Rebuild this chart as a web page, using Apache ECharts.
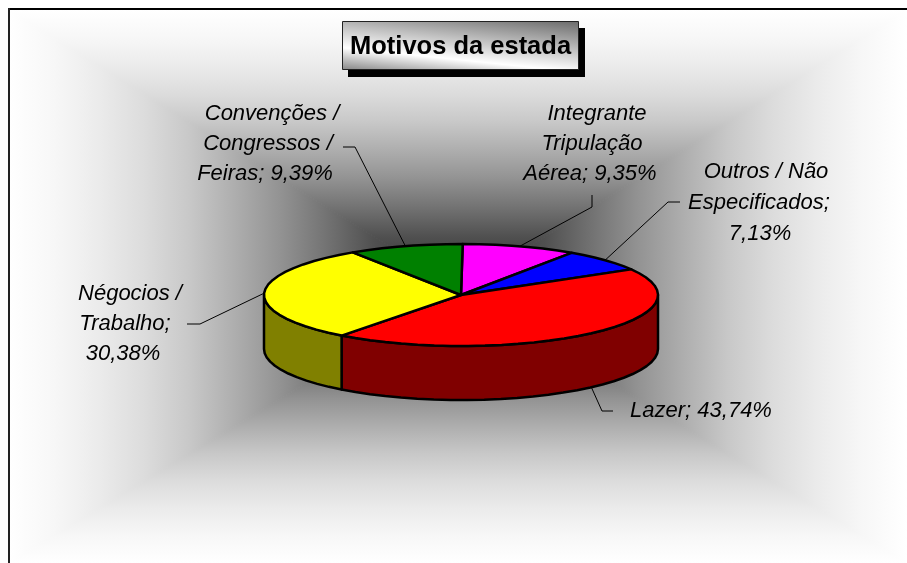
<!DOCTYPE html>
<html>
<head>
<meta charset="utf-8">
<title>Motivos da estada</title>
<script src="https://cdn.jsdelivr.net/npm/echarts@6/dist/echarts.min.js"></script>
<style>
html, body { margin: 0; padding: 0; background: #fff; }
#main { width: 907px; height: 563px; }
</style>
</head>
<body>
<div id="main"></div>
<script>
const titleText = 'Motivos da estada'
const sliceNames = ['Integrante Tripulação Aérea', 'Outros / Não Especificados', 'Lazer', 'Négocios / Trabalho', 'Convenções / Congressos / Feiras']
const sliceValues = [9.35, 7.13, 43.74, 30.38, 9.39]
const sliceColors = ['#ff00ff', '#0000ff', '#ff0000', '#ffff00', '#008000']
const wallColors = ['#800080', '#000080', '#800000', '#808000', '#004000']
const sliceLabels = [
  ['Integrante', 'Tripulação', 'Aérea; 9,35%'],
  ['Outros / Não', 'Especificados;', '7,13%'],
  ['Lazer; 43,74%'],
  ['Négocios /', 'Trabalho;', '30,38%'],
  ['Convenções /', 'Congressos /', 'Feiras; 9,39%']
]

// pie geometry
const cx = 461, cy = 295, rx = 197, ry = 51, depth = 54, startAngle = 0.5
const total = sliceValues.reduce((a, b) => a + b, 0)

// label text centres and leader elbows, same order as the slices
const labelPos = [
  [[597, 114], [592, 144], [590, 174]],
  [[766, 172], [759, 203], [760, 234]],
  [[701, 411]],
  [[130, 294], [125, 324], [123, 354]],
  [[272, 114], [268, 144], [265, 174]]
]
const leaderPos = [
  [[592, 195], [592, 207]],
  [[680, 202], [668, 202]],
  [[613, 411], [602, 411]],
  [[187, 324], [200, 324]],
  [[343, 147], [355, 147]]
]

function rimPoint (deg, drop) {
  const a = deg * Math.PI / 180
  return [cx + rx * Math.sin(a), cy - ry * Math.cos(a) + (drop || 0)]
}

function arcPoints (from, to, drop) {
  const pts = []
  const steps = Math.max(2, Math.ceil(Math.abs(to - from) / 5))
  for (let i = 0; i <= steps; i++) {
    pts.push(rimPoint(from + (to - from) * i / steps, drop))
  }
  return pts
}

function renderSlice (params, api) {
  const i = params.dataIndex
  let before = 0
  for (let k = 0; k < i; k++) before += sliceValues[k]
  const from = startAngle + before / total * 360
  const to = from + api.value(0) / total * 360
  const mid = (from + to) / 2
  const children = []
  const edge = { stroke: '#000', lineWidth: 2.5, lineJoin: 'round' }

  // only the front half of the side wall shows
  const wallFrom = Math.max(from, 90)
  const wallTo = Math.min(to, 270)
  if (wallTo > wallFrom) {
    const wall = arcPoints(wallFrom, wallTo, 0).concat(arcPoints(wallTo, wallFrom, depth))
    children.push({ type: 'polygon', z2: 1, shape: { points: wall }, style: Object.assign({ fill: wallColors[i] }, edge) })
  }

  const top = [[cx, cy]].concat(arcPoints(from, to, 0))
  children.push({ type: 'polygon', z2: 2, shape: { points: top }, style: Object.assign({ fill: sliceColors[i] }, edge) })

  // the lazer leader starts from the wall, the others from the top rim
  const anchor = rimPoint(mid, i === 2 ? depth : 0)
  children.push({
    type: 'polyline',
    z2: 0,
    shape: { points: leaderPos[i].concat([anchor]) },
    style: { stroke: '#000', lineWidth: 1, fill: null }
  })

  sliceLabels[i].forEach((line, n) => {
    children.push({
      type: 'text',
      z2: 3,
      style: {
        text: line,
        x: labelPos[i][n][0],
        y: labelPos[i][n][1],
        align: 'center',
        verticalAlign: 'middle',
        font: 'italic 22px "Liberation Sans"',
        fill: '#000'
      }
    })
  })
  return { type: 'group', children: children }
}

// plot area background: rectangular gradient, four triangles meeting in the centre
const box = { l: 9, t: 10, r: 907, b: 563, x: 460, y: 290 }
const bgStops = [
  { offset: 0, color: '#2c2c2c' },
  { offset: 0.1, color: '#3e3e3e' },
  { offset: 0.19, color: '#505050' },
  { offset: 0.3, color: '#747474' },
  { offset: 0.4, color: '#939393' },
  { offset: 0.5, color: '#aeaeae' },
  { offset: 0.6, color: '#c8c8c8' },
  { offset: 0.7, color: '#dcdcdc' },
  { offset: 0.8, color: '#ebebeb' },
  { offset: 0.9, color: '#f7f7f7' },
  { offset: 1, color: '#ffffff' }
]

function bgTriangle (ax, ay, bx, by, ex, ey) {
  const fill = { type: 'linear', x: box.x, y: box.y, x2: ex, y2: ey, colorStops: bgStops, global: true }
  return {
    type: 'polygon',
    silent: true,
    z: -2,
    shape: { points: [[box.x, box.y], [ax, ay], [bx, by]] },
    style: { fill: fill, stroke: fill, lineWidth: 1 }
  }
}

const chart = echarts.init(document.getElementById('main'))
chart.setOption({
  animation: false,
  backgroundColor: '#fff',
  title: {
    text: titleText,
    left: 342,
    top: 21,
    padding: [12, 8, 10, 8],
    borderWidth: 1,
    borderColor: '#222',
    backgroundColor: {
      type: 'linear', x: 1, y: 0, x2: 0.968, y2: 1.48,
      colorStops: [
        { offset: 0, color: '#6a6a6a' },
        { offset: 0.7, color: '#ffffff' },
        { offset: 1, color: '#888888' }
      ]
    },
    textStyle: {
      fontFamily: 'Liberation Sans',
      fontSize: 25.5,
      fontWeight: 'bold',
      color: '#000',
      lineHeight: 27
    }
  },
  graphic: [
    bgTriangle(box.l, box.t, box.r, box.t, box.x, box.t),
    bgTriangle(box.r, box.t, box.r, box.b, box.r, box.y),
    bgTriangle(box.r, box.b, box.l, box.b, box.x, box.b),
    bgTriangle(box.l, box.b, box.l, box.t, box.l, box.y),
    { type: 'line', silent: true, z: -1, shape: { x1: 8, y1: 9, x2: 907, y2: 9 }, style: { stroke: '#000', lineWidth: 2 } },
    { type: 'line', silent: true, z: -1, shape: { x1: 9, y1: 8, x2: 9, y2: 563 }, style: { stroke: '#222', lineWidth: 2 } },
    // title box drop shadow
    { type: 'rect', silent: true, z: -1, shape: { x: 348, y: 28, width: 237, height: 49 }, style: { fill: '#000' } }
  ],
  series: [
    {
      type: 'custom',
      coordinateSystem: 'none',
      renderItem: renderSlice,
      data: sliceValues.map((v, i) => ({ name: sliceNames[i], value: [v] }))
    }
  ]
})
</script>
</body>
</html>
